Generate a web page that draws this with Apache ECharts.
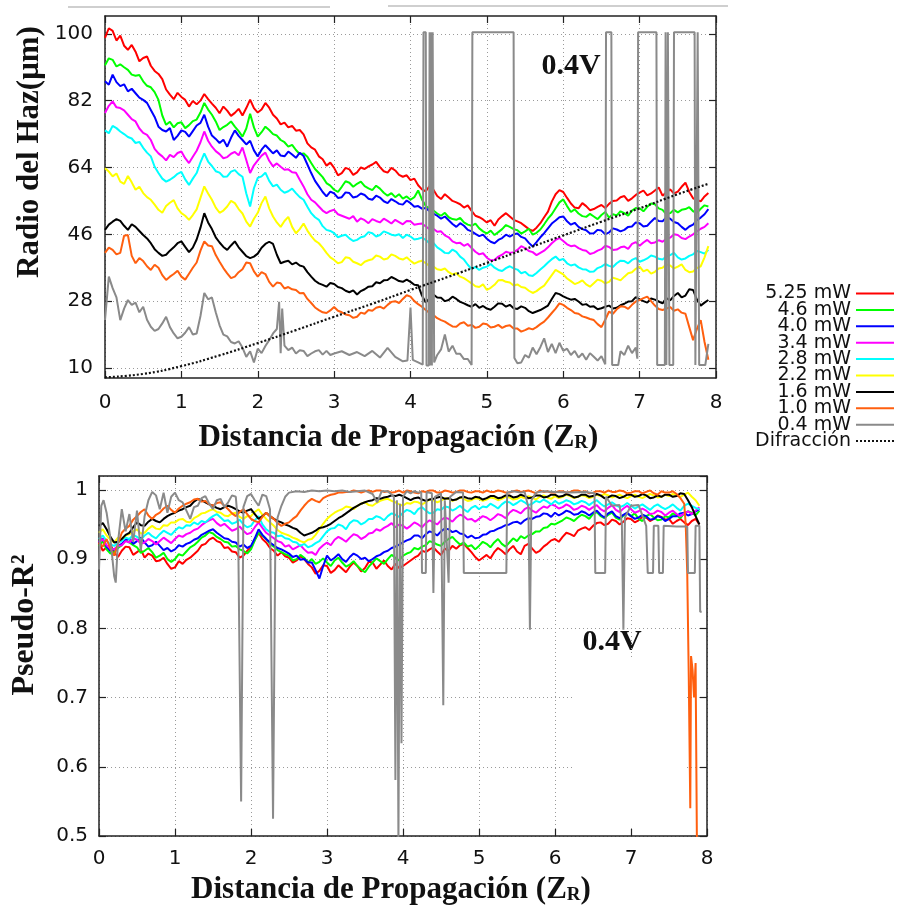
<!DOCTYPE html>
<html>
<head>
<meta charset="utf-8">
<script src="https://cdn.jsdelivr.net/npm/echarts@6/dist/echarts.min.js"></script>
<style>
  html, body { margin: 0; padding: 0; background: #fff; }
  #main { width: 897px; height: 912px; }
</style>
</head>
<body>
<div id="main"></div>
<script>
// distancia de propagacion (Z_R), muestreada cada 0.05
var dist = [0,0.05,0.1,0.15,0.2,0.25,0.3,0.35,0.4,0.45,0.5,0.55,0.6,0.65,0.7,0.75,0.8,0.85,0.9,0.95,
  1,1.05,1.1,1.15,1.2,1.25,1.3,1.35,1.4,1.45,1.5,1.55,1.6,1.65,1.7,1.75,1.8,1.85,1.9,1.95,
  2,2.05,2.1,2.15,2.2,2.25,2.3,2.35,2.4,2.45,2.5,2.55,2.6,2.65,2.7,2.75,2.8,2.85,2.9,2.95,
  3,3.05,3.1,3.15,3.2,3.25,3.3,3.35,3.4,3.45,3.5,3.55,3.6,3.65,3.7,3.75,3.8,3.85,3.9,3.95,
  4,4.05,4.1,4.15,4.2,4.25,4.3,4.35,4.4,4.45,4.5,4.55,4.6,4.65,4.7,4.75,4.8,4.85,4.9,4.95,
  5,5.05,5.1,5.15,5.2,5.25,5.3,5.35,5.4,5.45,5.5,5.55,5.6,5.65,5.7,5.75,5.8,5.85,5.9,5.95,
  6,6.05,6.1,6.15,6.2,6.25,6.3,6.35,6.4,6.45,6.5,6.55,6.6,6.65,6.7,6.75,6.8,6.85,6.9,6.95,
  7,7.05,7.1,7.15,7.2,7.25,7.3,7.35,7.4,7.45,7.5,7.55,7.6,7.65,7.7,7.75,7.8,7.85,7.9];

var nombres = ['5.25 mW','4.6 mW','4.0 mW','3.4 mW','2.8 mW','2.2 mW','1.6 mW','1.0 mW','0.4 mW'];
var colores = ['#ff0000','#00ff00','#0000ff','#ff00ff','#00ffff','#ffff00','#000000','#ff5f0f','#8a8a8a'];
var marcasRadio = [10, 28, 46, 64, 82, 100];

// ---- radio del haz (um) ----
var radio525 = [98.9,101.5,100.8,98.2,99.5,96.8,95.7,97.0,95.2,92.6,93.5,93.9,91.4,90.0,89.2,87.8,85.0,83.6,82.4,84.1,
  83.0,82.2,80.4,81.9,81.0,82.0,83.8,82.4,81.2,80.1,78.6,80.4,79.3,77.9,78.7,79.8,78.0,80.0,82.3,80.0,
  78.8,79.6,81.4,80.1,78.2,77.2,75.6,76.1,74.8,75.2,73.9,74.1,72.9,70.5,69.4,68.8,67.0,66.2,64.5,65.3,
  63.9,61.9,62.5,63.9,63.5,62.0,62.7,64.0,63.6,64.3,64.8,65.5,64.1,63.0,62.6,63.9,63.2,62.0,61.5,61.9,
  60.6,61.0,59.2,58.1,57.6,59.0,58.0,56.3,55.5,56.8,55.9,55.0,54.6,54.1,53.2,53.8,52.3,51.0,50.6,50.0,
  49.2,49.8,48.3,50.0,50.9,51.7,50.8,49.9,49.5,49.0,48.2,47.4,46.9,47.8,49.0,50.6,52.1,54.8,56.8,57.9,
  57.4,55.8,54.3,53.2,53.0,54.4,53.6,52.5,52.8,53.4,53.9,53.1,54.2,55.0,55.1,56.0,56.3,55.0,55.7,56.6,
  57.2,57.8,56.5,57.0,57.8,58.6,56.4,57.3,58.1,57.0,57.5,58.8,59.9,57.4,55.7,55.2,54.9,56.2,57.1];
var radio46 = [91.5,93.4,93.0,91.2,91.8,91.0,90.3,89.0,88.7,88.9,87.2,86.0,85.6,84.3,82.2,78.0,75.5,76.3,74.8,75.9,
  76.2,74.6,75.4,76.5,76.9,78.8,81.4,79.6,78.2,76.4,74.1,74.9,75.5,76.4,75.0,73.8,72.3,74.5,78.5,74.8,
  72.3,73.5,75.0,74.1,73.0,72.6,71.4,70.8,69.6,70.1,68.7,67.6,67.8,66.9,65.2,63.6,62.5,61.4,59.8,59.1,
  58.0,57.4,58.8,60.3,59.9,58.8,59.6,60.2,59.0,58.4,57.9,59.1,58.3,57.2,56.4,57.1,56.0,56.8,55.6,56.2,
  55.3,56.0,57.8,55.4,53.6,53.0,52.4,51.6,51.0,51.8,50.6,50.1,49.9,50.4,49.2,48.6,48.3,48.9,47.6,46.8,
  46.2,47.0,45.8,46.6,47.4,48.5,48.0,47.4,47.1,46.2,46.8,47.5,45.9,46.4,47.3,48.7,50.2,51.4,53.0,54.6,
  55.4,53.6,52.0,52.7,51.6,50.9,50.7,51.5,50.8,50.1,51.2,52.0,50.5,51.4,51.1,52.2,51.7,51.0,52.4,53.1,
  53.0,52.2,53.4,54.3,54.1,53.0,52.6,51.4,51.7,52.6,51.9,52.6,52.8,53.3,52.2,51.8,52.9,53.8,53.5];
var radio40 = [87.2,86.3,89.0,87.0,85.9,86.4,84.5,85.2,84.0,82.8,82.2,81.4,79.5,77.6,75.0,74.1,73.7,74.6,71.4,72.5,
  74.0,73.6,72.3,73.8,75.3,76.0,78.2,75.0,72.6,71.7,70.6,71.5,69.6,72.0,74.0,72.5,71.4,70.2,71.2,68.6,
  67.0,68.8,70.0,68.9,67.8,68.6,67.2,67.0,68.3,67.5,66.6,68.0,67.1,64.8,62.5,60.4,58.9,57.4,56.2,57.5,
  57.0,55.8,56.0,57.3,57.1,55.9,56.2,57.0,56.6,55.6,55.3,56.4,55.9,54.9,54.4,55.5,54.9,54.2,54.0,55.1,
  54.4,53.4,53.6,52.9,53.1,52.2,51.6,51.0,50.2,50.8,49.8,48.8,48.0,49.0,48.3,47.2,46.8,46.1,45.5,45.9,
  44.8,44.0,43.6,44.5,45.0,45.9,45.4,46.0,46.2,45.3,44.9,43.7,42.7,43.9,45.2,46.3,47.6,48.9,49.7,50.6,
  50.8,49.5,48.6,49.1,48.0,47.4,47.1,46.2,46.3,47.2,47.0,46.0,46.5,47.6,47.3,46.8,47.2,48.0,48.1,49.2,
  49.0,48.1,48.3,49.4,50.4,49.6,49.5,50.6,50.2,49.3,49.0,48.0,47.2,48.1,48.6,49.8,50.5,51.4,52.8];
var radio34 = [78.7,80.6,81.8,80.2,80.0,79.4,78.2,77.0,76.4,74.5,73.3,72.8,71.4,69.0,67.8,67.0,65.9,67.4,66.8,67.9,
  68.3,66.5,65.2,66.9,68.5,70.8,73.7,71.2,69.6,68.4,67.6,66.5,66.8,67.7,68.2,67.3,69.4,66.0,62.5,64.6,
  65.9,67.2,68.0,65.8,64.3,65.1,64.2,63.4,63.5,62.7,62.6,60.7,58.9,56.8,55.3,54.6,53.5,52.4,51.7,52.3,
  52.6,51.4,51.0,50.6,50.2,50.9,49.4,50.3,49.8,49.0,50.1,49.6,49.2,50.2,49.6,48.9,49.9,49.3,48.7,49.6,
  49.5,48.6,48.8,48.9,48.1,47.4,47.5,46.7,46.8,45.7,45.2,44.1,43.6,43.7,42.9,43.4,42.3,41.3,40.6,40.9,
  39.7,39.0,39.1,40.0,40.5,41.3,41.0,41.2,41.8,42.8,42.3,41.5,41.2,40.4,41.0,41.6,42.5,43.6,44.5,45.0,
  44.2,43.3,42.8,43.0,42.3,41.8,41.6,40.7,41.0,41.6,42.0,42.9,42.6,41.8,41.9,42.5,42.7,42.1,43.4,43.9,
  42.9,43.8,44.5,43.6,43.8,44.4,44.0,44.8,45.1,46.0,45.8,45.0,44.7,45.4,46.0,46.8,47.5,48.0,49.0];
var radio28 = [74.0,73.2,75.2,74.6,73.7,73.0,72.2,71.8,70.6,70.9,69.3,68.0,67.0,64.2,62.5,61.0,60.2,60.7,61.4,62.3,
  62.8,60.8,59.3,61.0,62.5,65.4,67.8,65.6,64.4,63.0,62.6,61.5,61.6,62.9,63.3,62.2,61.5,57.0,53.5,58.4,
  61.2,61.6,62.6,60.4,58.9,59.4,58.0,57.2,57.6,58.3,57.1,56.0,55.3,53.4,51.7,50.6,49.9,48.2,47.2,46.9,
  46.3,45.2,45.6,45.9,44.9,44.2,44.5,45.2,45.5,46.6,46.3,45.4,45.8,46.8,46.4,45.9,45.7,46.0,45.0,45.9,
  45.4,44.6,44.8,45.1,44.5,43.6,43.7,42.5,41.8,41.0,40.9,41.9,41.3,40.0,39.2,37.8,36.6,37.2,36.4,37.0,
  37.3,38.0,37.0,36.4,36.1,36.9,37.4,36.8,36.5,35.5,35.9,35.0,34.8,35.6,36.5,37.4,38.4,39.3,40.0,39.0,
  39.4,38.2,37.6,37.9,37.1,36.6,36.5,35.9,36.0,36.9,37.3,38.0,37.5,37.2,38.2,38.9,38.8,38.2,39.1,39.6,
  38.6,39.0,39.5,40.3,40.0,39.4,39.2,40.0,40.4,41.0,39.8,39.2,39.5,40.2,40.6,41.5,41.2,40.8,41.8];
var radio22 = [63.8,62.9,61.6,62.4,60.2,59.6,61.7,60.0,58.0,58.8,57.1,56.0,55.3,54.0,52.6,51.8,53.6,54.5,55.2,53.0,
  51.7,51.0,49.9,51.2,52.7,55.8,58.9,57.0,55.3,53.2,51.8,52.4,53.5,55.0,54.4,52.8,51.6,49.4,48.1,50.2,
  51.8,54.4,56.2,53.0,50.8,49.2,48.0,49.6,50.7,48.0,46.3,47.4,48.9,47.0,45.5,44.3,43.6,42.4,41.0,39.8,
  39.1,38.2,38.5,39.8,39.6,38.6,38.2,37.7,38.6,39.0,39.3,40.3,40.0,39.2,39.5,40.6,40.2,39.5,39.2,39.8,
  38.9,38.1,38.6,38.9,38.2,37.5,37.3,36.6,36.4,36.8,35.8,35.2,35.5,34.6,34.2,33.5,32.8,32.0,31.8,32.5,
  31.0,31.6,32.4,33.6,33.7,33.2,33.0,32.2,32.5,31.8,31.6,30.8,30.2,30.7,31.5,32.2,33.6,35.0,36.4,35.8,
  35.2,34.1,33.4,32.6,33.0,33.6,32.5,31.9,32.8,33.8,33.5,32.8,33.2,34.3,34.0,33.6,34.6,35.5,35.8,36.7,
  37.3,36.0,36.5,35.4,35.9,36.8,37.0,37.9,37.6,36.8,37.3,37.9,36.4,35.8,36.0,36.9,37.4,39.8,42.8];
var radio16 = [47.2,48.6,49.4,50.1,49.6,48.3,47.2,48.7,48.0,46.9,45.8,44.9,43.6,42.0,41.0,40.2,40.5,41.6,42.5,43.6,
  44.1,42.6,41.2,42.4,44.6,47.8,51.7,49.2,47.4,45.2,43.8,42.6,41.8,43.0,44.1,42.5,41.3,40.1,39.6,40.0,
  40.8,42.4,43.4,44.0,43.4,40.5,38.2,38.6,38.9,37.9,38.4,37.6,37.3,35.8,34.6,33.5,32.8,32.4,31.9,32.9,
  32.6,31.8,31.5,30.8,30.4,30.9,29.8,30.7,31.2,31.9,32.0,33.1,32.8,33.6,33.7,34.5,34.0,33.4,33.2,33.8,
  33.2,32.4,32.3,29.5,27.6,28.8,29.8,29.0,28.9,28.0,28.3,29.2,28.6,27.8,27.4,26.9,26.5,27.2,26.2,26.7,
  26.0,25.7,26.5,27.4,27.3,26.5,27.0,26.1,25.9,26.6,26.2,25.3,24.8,25.2,25.6,26.2,26.8,28.6,30.2,29.9,
  29.3,28.8,28.4,28.6,27.9,27.0,27.2,26.5,26.6,25.8,26.1,26.5,26.8,26.0,26.2,26.9,27.3,27.9,28.0,29.1,
  28.5,28.0,27.6,28.7,28.4,27.9,27.4,28.8,28.2,29.4,30.2,29.0,29.5,31.2,31.0,28.4,26.8,27.6,28.3];
var radio10 = [41.0,42.4,41.8,40.6,41.0,45.6,45.8,40.2,38.2,39.6,38.8,37.4,36.4,37.8,37.0,35.0,33.7,34.6,35.3,36.2,
  34.6,33.8,35.4,37.0,38.4,41.6,44.1,43.0,42.8,40.4,38.6,36.9,35.5,34.2,34.6,35.8,36.6,38.4,38.2,36.0,
  34.6,35.8,35.3,33.2,31.9,33.0,32.8,31.4,31.8,31.2,31.0,30.1,30.2,28.6,27.5,26.3,25.6,25.0,24.8,25.5,
  26.4,25.4,25.0,24.4,24.2,23.5,23.8,24.9,24.6,25.6,25.4,26.2,26.5,26.0,27.0,27.8,28.0,27.5,28.6,29.6,
  29.2,28.0,27.2,26.5,25.6,24.8,24.3,23.4,22.9,22.5,21.8,21.2,21.1,22.0,22.3,21.4,21.6,20.8,21.1,22.0,
  21.8,20.9,21.1,21.6,20.8,21.3,21.5,20.6,20.6,19.8,20.2,20.7,20.4,21.0,21.8,22.5,23.6,24.8,26.0,27.4,
  27.0,26.2,25.6,24.8,24.6,23.9,23.6,23.2,22.9,21.8,21.0,23.0,25.2,24.6,25.8,26.6,26.5,25.9,27.0,27.9,
  28.3,28.8,29.2,28.0,26.8,25.9,25.6,26.0,26.4,25.4,25.8,24.9,24.6,21.0,17.5,20.5,22.9,17.0,12.2];
// 0.4 mW: pares [z, radio] (saltos al borde del ajuste)
var radio04 = [[0,22.9],[0.05,34.6],[0.1,31.5],[0.15,29.0],[0.2,22.9],[0.25,26.0],[0.3,28.3],[0.35,27.0],
  [0.4,27.6],[0.45,25.0],[0.5,26.5],[0.55,23.0],[0.6,21.1],[0.65,20.0],[0.7,20.5],[0.75,22.0],
  [0.8,23.8],[0.85,21.0],[0.9,19.3],[0.95,18.0],[1.0,18.4],[1.05,19.5],[1.1,21.0],[1.15,19.0],
  [1.2,19.3],[1.25,24.0],[1.3,30.2],[1.35,28.5],[1.4,29.0],[1.45,25.0],[1.5,21.5],[1.55,19.0],
  [1.6,18.5],[1.65,17.0],[1.7,16.6],[1.75,17.2],[1.8,15.5],[1.85,13.0],[1.9,14.5],[1.95,11.5],
  [2.0,15.2],[2.05,14.0],[2.1,15.9],[2.15,17.5],[2.2,19.3],[2.25,20.5],[2.28,27.8],[2.3,14.0],
  [2.32,26.0],[2.35,16.0],[2.4,14.8],[2.45,15.5],[2.5,13.9],[2.55,14.8],[2.6,14.6],[2.65,13.2],
  [2.7,13.9],[2.75,14.5],[2.8,14.8],[2.85,13.6],[2.9,14.6],[2.95,13.5],[3.0,13.9],[3.1,14.5],
  [3.2,13.5],[3.3,14.3],[3.4,13.2],[3.5,14.6],[3.6,12.8],[3.7,15.4],[3.8,13.0],[3.9,11.8],
  [3.96,12.0],[4.0,26.3],[4.03,12.2],[4.1,11.5],[4.16,10.9],[4.17,100.4],[4.2,100.4],[4.21,10.7],
  [4.24,10.7],[4.25,100.4],[4.26,10.7],[4.27,100.4],[4.28,10.7],[4.29,100.4],[4.3,100.4],[4.31,11.5],
  [4.35,13.5],[4.4,15.0],[4.45,19.0],[4.5,14.4],[4.55,16.0],[4.6,13.8],[4.65,13.8],[4.7,12.4],
  [4.75,12.4],[4.8,10.8],[4.81,100.4],[5.35,100.4],[5.36,12.7],[5.4,11.3],[5.45,11.5],[5.5,13.5],
  [5.55,12.8],[5.6,15.5],[5.65,13.7],[5.7,15.6],[5.75,18.0],[5.8,14.3],[5.85,16.5],[5.9,14.0],
  [5.95,16.8],[6.0,14.6],[6.05,15.2],[6.1,13.5],[6.15,14.6],[6.2,12.8],[6.25,13.9],[6.3,12.2],
  [6.35,14.0],[6.4,13.0],[6.45,12.0],[6.5,13.2],[6.55,11.0],[6.56,100.4],[6.63,100.4],[6.64,10.8],
  [6.72,10.8],[6.75,14.5],[6.8,13.5],[6.85,16.0],[6.9,14.0],[6.95,15.5],[6.97,12.5],[6.98,100.4],
  [7.22,100.4],[7.23,10.8],[7.33,10.8],[7.34,100.4],[7.35,10.8],[7.37,100.4],[7.39,10.8],[7.44,10.8],
  [7.45,100.4],[7.72,100.4],[7.73,10.8],[7.76,100.4],[7.77,100.4],[7.78,10.8],[7.86,10.8],[7.9,16.5]];
var difrZ = [0,0.5,1,1.5,2,2.5,3,3.5,4,4.5,5,5.5,6,6.5,7,7.5,7.9];
var difrRadio = [7.5,8.4,10.5,13.4,16.7,20.2,23.8,27.3,31.0,34.6,38.3,42.0,45.7,49.4,53.0,56.8,59.6];

// ---- pseudo-R2 ----
var r2_525 = [0.924,0.912,0.917,0.921,0.910,0.903,0.912,0.918,0.917,0.906,0.910,0.914,0.902,0.908,0.905,0.897,0.898,0.902,0.893,0.886,
  0.888,0.897,0.893,0.899,0.902,0.907,0.912,0.920,0.922,0.928,0.931,0.926,0.924,0.916,0.917,0.911,0.910,0.902,0.905,0.912,
  0.917,0.928,0.938,0.929,0.924,0.916,0.912,0.905,0.910,0.904,0.902,0.895,0.898,0.904,0.900,0.893,0.888,0.879,0.883,0.891,
  0.890,0.880,0.884,0.891,0.886,0.881,0.889,0.895,0.890,0.882,0.887,0.896,0.895,0.886,0.892,0.898,0.890,0.885,0.893,0.887,
  0.890,0.894,0.898,0.902,0.905,0.912,0.910,0.914,0.917,0.911,0.906,0.915,0.912,0.919,0.915,0.920,0.922,0.916,0.910,0.903,
  0.898,0.902,0.906,0.901,0.910,0.916,0.912,0.907,0.914,0.919,0.911,0.907,0.919,0.922,0.915,0.909,0.912,0.918,0.922,0.927,
  0.929,0.925,0.932,0.938,0.936,0.933,0.941,0.944,0.946,0.942,0.948,0.952,0.953,0.949,0.951,0.957,0.955,0.950,0.954,0.959,
  0.958,0.953,0.956,0.961,0.960,0.955,0.958,0.963,0.961,0.957,0.958,0.951,0.955,0.958,0.953,0.949,0.955,0.958,0.950];
var r2_46 = [0.919,0.926,0.914,0.908,0.910,0.916,0.920,0.927,0.924,0.920,0.917,0.909,0.912,0.916,0.910,0.902,0.905,0.909,0.900,0.896,
  0.900,0.907,0.905,0.911,0.917,0.920,0.925,0.931,0.934,0.939,0.937,0.932,0.929,0.925,0.924,0.918,0.919,0.914,0.912,0.908,
  0.914,0.927,0.938,0.934,0.929,0.922,0.918,0.913,0.910,0.907,0.905,0.898,0.900,0.906,0.902,0.895,0.900,0.893,0.896,0.901,
  0.895,0.890,0.898,0.902,0.895,0.889,0.892,0.897,0.890,0.885,0.881,0.889,0.895,0.901,0.897,0.893,0.900,0.906,0.902,0.898,
  0.905,0.908,0.910,0.916,0.914,0.918,0.920,0.926,0.924,0.921,0.919,0.925,0.929,0.932,0.926,0.921,0.924,0.918,0.920,0.914,
  0.919,0.925,0.922,0.917,0.924,0.929,0.922,0.918,0.924,0.930,0.926,0.933,0.930,0.934,0.936,0.940,0.940,0.945,0.946,0.951,
  0.950,0.953,0.956,0.960,0.958,0.955,0.960,0.964,0.962,0.958,0.965,0.968,0.962,0.959,0.964,0.967,0.960,0.957,0.963,0.966,
  0.962,0.966,0.958,0.955,0.962,0.965,0.960,0.956,0.957,0.962,0.960,0.966,0.963,0.959,0.966,0.969,0.967,0.963,0.970];
var r2_40 = [0.924,0.930,0.918,0.912,0.914,0.919,0.922,0.928,0.929,0.922,0.926,0.931,0.924,0.918,0.920,0.925,0.919,0.913,0.916,0.911,
  0.914,0.920,0.918,0.922,0.924,0.928,0.930,0.935,0.938,0.941,0.943,0.938,0.934,0.930,0.929,0.925,0.924,0.918,0.921,0.916,
  0.919,0.930,0.943,0.935,0.929,0.924,0.920,0.916,0.914,0.911,0.908,0.903,0.905,0.899,0.900,0.895,0.895,0.884,0.872,0.890,
  0.905,0.898,0.902,0.907,0.900,0.896,0.903,0.908,0.905,0.900,0.902,0.897,0.900,0.904,0.906,0.910,0.912,0.916,0.918,0.921,
  0.924,0.927,0.929,0.934,0.934,0.930,0.936,0.940,0.938,0.934,0.940,0.944,0.943,0.939,0.941,0.937,0.936,0.931,0.934,0.930,
  0.931,0.935,0.936,0.940,0.941,0.944,0.946,0.949,0.950,0.953,0.954,0.951,0.956,0.959,0.958,0.961,0.962,0.966,0.965,0.961,
  0.967,0.963,0.966,0.970,0.968,0.964,0.965,0.969,0.967,0.963,0.967,0.970,0.964,0.960,0.966,0.969,0.962,0.959,0.964,0.967,
  0.962,0.958,0.960,0.964,0.962,0.957,0.958,0.962,0.960,0.955,0.958,0.962,0.962,0.966,0.967,0.963,0.965,0.969,0.972];
var r2_34 = [0.924,0.929,0.920,0.915,0.914,0.919,0.920,0.926,0.924,0.930,0.928,0.922,0.924,0.929,0.926,0.921,0.926,0.931,0.927,0.923,
  0.929,0.934,0.932,0.936,0.938,0.942,0.944,0.949,0.953,0.956,0.958,0.952,0.948,0.951,0.946,0.941,0.943,0.947,0.941,0.936,
  0.938,0.946,0.953,0.945,0.938,0.934,0.930,0.926,0.924,0.918,0.920,0.914,0.917,0.920,0.914,0.909,0.910,0.906,0.915,0.920,
  0.924,0.920,0.928,0.932,0.929,0.925,0.931,0.936,0.934,0.929,0.932,0.937,0.938,0.943,0.941,0.945,0.948,0.952,0.946,0.950,
  0.948,0.944,0.948,0.953,0.950,0.946,0.952,0.956,0.953,0.950,0.956,0.960,0.958,0.954,0.960,0.964,0.962,0.957,0.958,0.954,
  0.958,0.962,0.960,0.956,0.960,0.965,0.963,0.959,0.967,0.971,0.969,0.966,0.972,0.975,0.970,0.967,0.972,0.976,0.974,0.979,
  0.977,0.973,0.975,0.979,0.976,0.971,0.973,0.977,0.975,0.971,0.975,0.978,0.972,0.969,0.974,0.978,0.971,0.968,0.973,0.977,
  0.972,0.967,0.969,0.973,0.970,0.965,0.966,0.970,0.968,0.963,0.967,0.970,0.965,0.962,0.966,0.969,0.965,0.970,0.975];
var r2_28 = [0.929,0.934,0.926,0.921,0.919,0.924,0.926,0.931,0.929,0.935,0.932,0.928,0.934,0.938,0.933,0.930,0.936,0.941,0.938,0.935,
  0.941,0.946,0.944,0.949,0.948,0.953,0.950,0.955,0.953,0.958,0.962,0.965,0.960,0.955,0.956,0.951,0.953,0.957,0.950,0.946,
  0.948,0.956,0.962,0.950,0.943,0.939,0.938,0.933,0.934,0.930,0.929,0.925,0.924,0.919,0.922,0.917,0.919,0.923,0.926,0.933,
  0.940,0.944,0.945,0.950,0.948,0.943,0.952,0.956,0.955,0.950,0.953,0.958,0.958,0.962,0.960,0.956,0.962,0.966,0.964,0.961,
  0.967,0.971,0.969,0.965,0.972,0.975,0.970,0.966,0.967,0.972,0.971,0.976,0.975,0.970,0.973,0.977,0.972,0.968,0.974,0.977,
  0.972,0.976,0.975,0.980,0.977,0.973,0.979,0.983,0.982,0.978,0.981,0.985,0.982,0.978,0.980,0.984,0.982,0.986,0.983,0.979,
  0.984,0.980,0.982,0.985,0.983,0.979,0.981,0.984,0.982,0.978,0.982,0.985,0.980,0.976,0.979,0.982,0.978,0.975,0.977,0.981,
  0.977,0.973,0.976,0.979,0.975,0.971,0.976,0.979,0.975,0.972,0.975,0.979,0.974,0.970,0.977,0.980,0.977,0.974,0.972];
var r2_22 = [0.938,0.943,0.934,0.928,0.924,0.931,0.929,0.934,0.936,0.940,0.943,0.937,0.938,0.944,0.948,0.944,0.943,0.949,0.948,0.953,
  0.953,0.957,0.958,0.954,0.953,0.959,0.962,0.966,0.967,0.970,0.972,0.968,0.967,0.963,0.962,0.966,0.967,0.961,0.958,0.962,
  0.962,0.968,0.972,0.964,0.958,0.953,0.948,0.942,0.938,0.936,0.934,0.931,0.929,0.926,0.924,0.928,0.929,0.935,0.943,0.951,
  0.958,0.963,0.967,0.970,0.972,0.976,0.975,0.972,0.977,0.980,0.982,0.978,0.977,0.981,0.984,0.986,0.987,0.984,0.982,0.979,
  0.977,0.981,0.980,0.983,0.982,0.979,0.982,0.986,0.985,0.982,0.984,0.988,0.987,0.984,0.986,0.989,0.987,0.984,0.985,0.988,
  0.987,0.984,0.986,0.989,0.988,0.985,0.987,0.990,0.989,0.986,0.987,0.990,0.988,0.991,0.989,0.986,0.990,0.992,0.989,0.987,
  0.991,0.988,0.990,0.993,0.991,0.988,0.990,0.992,0.991,0.988,0.990,0.993,0.991,0.994,0.992,0.989,0.991,0.993,0.990,0.988,
  0.991,0.993,0.990,0.988,0.991,0.994,0.992,0.989,0.990,0.993,0.991,0.994,0.992,0.990,0.993,0.996,0.990,0.985,0.977];
var r2_16 = [0.948,0.952,0.943,0.932,0.924,0.925,0.929,0.935,0.938,0.946,0.953,0.949,0.948,0.954,0.958,0.955,0.953,0.958,0.962,0.965,
  0.967,0.970,0.972,0.975,0.977,0.983,0.987,0.985,0.982,0.979,0.977,0.974,0.972,0.975,0.977,0.975,0.972,0.969,0.967,0.970,
  0.972,0.965,0.958,0.962,0.967,0.962,0.958,0.955,0.953,0.950,0.948,0.945,0.943,0.938,0.934,0.936,0.938,0.941,0.945,0.946,
  0.948,0.951,0.955,0.959,0.962,0.966,0.970,0.974,0.977,0.980,0.982,0.984,0.985,0.988,0.987,0.989,0.990,0.992,0.991,0.993,
  0.991,0.988,0.985,0.988,0.989,0.986,0.984,0.986,0.987,0.989,0.990,0.987,0.988,0.985,0.986,0.989,0.990,0.988,0.987,0.990,
  0.989,0.986,0.988,0.991,0.991,0.988,0.989,0.992,0.992,0.989,0.990,0.993,0.991,0.988,0.989,0.992,0.992,0.989,0.990,0.993,
  0.993,0.990,0.991,0.994,0.992,0.989,0.990,0.993,0.993,0.990,0.991,0.994,0.992,0.988,0.989,0.992,0.991,0.988,0.990,0.993,
  0.993,0.990,0.991,0.994,0.992,0.988,0.989,0.992,0.990,0.993,0.993,0.990,0.991,0.995,0.994,0.985,0.975,0.962,0.950];
var r2_10 = [0.924,0.918,0.929,0.915,0.905,0.922,0.938,0.944,0.948,0.957,0.962,0.968,0.972,0.963,0.958,0.964,0.967,0.973,0.977,0.971,
  0.967,0.973,0.977,0.980,0.982,0.986,0.987,0.983,0.984,0.979,0.977,0.981,0.982,0.977,0.972,0.966,0.962,0.968,0.972,0.965,
  0.958,0.955,0.953,0.961,0.967,0.962,0.958,0.952,0.948,0.951,0.953,0.958,0.962,0.970,0.977,0.983,0.987,0.984,0.982,0.988,
  0.991,0.993,0.994,0.996,0.996,0.997,0.997,0.999,0.998,0.996,0.998,0.999,0.997,0.999,0.999,0.997,0.998,0.996,0.997,0.999,
  0.996,0.999,0.998,0.996,0.995,0.998,0.997,0.999,0.999,0.996,0.996,0.999,0.998,0.996,0.997,0.999,0.999,0.997,0.996,0.998,
  0.998,0.996,0.999,0.997,0.997,0.999,0.998,0.996,0.996,0.998,0.999,0.997,0.998,0.999,0.997,0.995,0.999,0.997,0.998,0.996,
  0.996,0.998,0.998,0.996,0.997,0.999,0.999,0.997,0.998,0.995,0.996,0.998,0.998,0.996,0.999,0.997,0.997,0.999,0.998,0.995,
  0.996,0.998,0.998,0.995,0.997,0.999,0.995,0.993,0.998,0.996,0.996,0.998,0.994,0.988,0.980];
var r2_10cola = [[7.72,0.95],[7.74,0.88],[7.76,0.73],[7.78,0.54],[7.79,0.76],[7.81,0.74],
  [7.83,0.70],[7.85,0.75],[7.87,0.45]];
var r2_04 = [[0,0.885],[0.03,0.977],[0.06,0.985],[0.1,0.967],[0.15,0.930],[0.2,0.875],[0.22,0.866],
  [0.25,0.925],[0.3,0.972],[0.35,0.940],[0.4,0.965],[0.45,0.925],[0.5,0.970],[0.55,0.912],[0.6,0.962],
  [0.65,0.985],[0.7,0.997],[0.75,0.992],[0.8,0.972],[0.85,0.996],[0.9,0.967],[0.95,0.990],[1.0,0.996],
  [1.05,0.985],[1.1,0.982],[1.15,0.970],[1.2,0.958],[1.25,0.975],[1.3,0.977],[1.35,0.988],[1.4,0.991],
  [1.45,0.980],[1.5,0.972],[1.55,0.985],[1.6,0.987],[1.65,0.975],[1.7,0.982],[1.75,0.992],[1.8,0.990],
  [1.83,0.950],[1.87,0.550],[1.9,0.975],[1.95,0.991],[2.0,0.994],[2.05,0.985],[2.1,0.977],[2.15,0.993],
  [2.2,0.991],[2.25,0.972],[2.29,0.525],[2.32,0.924],[2.35,0.960],[2.4,0.977],[2.45,0.990],[2.5,0.996],
  [2.6,0.998],[2.7,0.997],[2.8,0.999],[2.9,0.998],[3.0,0.999],[3.1,0.998],[3.2,0.999],[3.3,0.997],
  [3.4,0.998],[3.5,0.999],[3.6,0.994],[3.66,0.982],[3.72,0.998],[3.8,0.998],[3.88,0.990],[3.9,0.581],
  [3.92,0.985],[3.94,0.49],[3.96,0.98],[3.98,0.634],[4.0,0.99],[4.05,0.998],[4.1,0.995],[4.15,0.998],
  [4.2,0.996],[4.24,0.997],[4.25,0.880],[4.3,0.880],[4.31,0.997],[4.38,0.995],[4.4,0.851],[4.42,0.990],
  [4.5,0.995],[4.52,0.793],[4.53,0.689],[4.55,0.985],[4.6,0.866],[4.62,0.990],[4.7,0.997],[4.79,0.996],
  [4.8,0.880],[5.36,0.880],[5.37,0.996],[5.45,0.998],[5.55,0.996],[5.6,0.997],[5.65,0.975],[5.67,0.798],
  [5.69,0.985],[5.75,0.996],[5.85,0.998],[6.0,0.997],[6.2,0.996],[6.4,0.997],[6.52,0.995],[6.53,0.880],
  [6.66,0.880],[6.67,0.990],[6.75,0.977],[6.85,0.978],[6.88,0.950],[6.9,0.798],[6.92,0.960],[7.0,0.977],
  [7.1,0.978],[7.2,0.948],[7.22,0.880],[7.29,0.880],[7.3,0.948],[7.36,0.948],[7.37,0.880],[7.42,0.880],
  [7.43,0.948],[7.6,0.947],[7.74,0.947],[7.75,0.880],[7.84,0.880],[7.85,0.948],[7.9,0.948],[7.91,0.824],
  [7.93,0.824]];

(function() {
  var myChart = echarts.init(document.getElementById('main'));

  function pares(xs, ys) {
    return ys.map(function(v, i) { return [xs[i], v]; });
  }

  var serif = '"Liberation Serif", "Times New Roman", serif';
  var tituloX = 'Distancia de Propagación {p|(Z}{s|R}{p|)}';
  var estiloTitulo = {
    fontFamily: serif, fontWeight: 'bold', fontSize: 31, color: '#111',
    padding: [0, 24, 0, 0],
    rich: {
      p: { fontFamily: serif, fontWeight: 'bold', fontSize: 31, color: '#111' },
      s: { fontFamily: serif, fontWeight: 'bold', fontSize: 19, color: '#111', verticalAlign: 'bottom', padding: [12, 0, 0, 0] }
    }
  };
  var lineaEje = { show: true, onZero: false, lineStyle: { color: '#222', width: 1.5 } };
  var rejilla = { show: true, lineStyle: { color: '#9a9a9a', width: 1, type: [1, 3] } };
  var etiqueta = { fontFamily: 'DejaVu Sans', fontSize: 20, color: '#111' };

  // eje x (abajo con texto, arriba solo marcas)
  function ejeX(grid, pos, gap) {
    var abajo = pos === 'bottom';
    return {
      type: 'value', gridIndex: grid, position: pos, min: 0, max: 8, interval: 1,
      axisLine: lineaEje,
      axisTick: { show: true, inside: true, length: 7, lineStyle: { color: '#222', width: 1.2 } },
      axisLabel: Object.assign({ show: abajo, margin: grid === 0 ? 15 : 13 }, etiqueta),
      splitLine: abajo ? rejilla : { show: false },
      name: abajo ? tituloX : '',
      nameLocation: 'middle', nameGap: gap || 0,
      nameTextStyle: estiloTitulo
    };
  }

  var option = {
    animation: false,
    backgroundColor: '#fff',
    legend: {
      data: nombres.concat(['Difracción']),
      orient: 'vertical', right: 2, top: 284, align: 'right', padding: 0,
      itemWidth: 38, itemHeight: 12, itemGap: -2.6,
      selectedMode: false,
      itemStyle: { opacity: 0 },
      textStyle: { fontFamily: 'DejaVu Sans', fontSize: 19, color: '#111' }
    },
    grid: [
      { left: 105, top: 16, width: 611, height: 362, containLabel: false, outerBoundsMode: 'none' },
      { left: 99, top: 476, width: 608, height: 360, containLabel: false, outerBoundsMode: 'none' }
    ],
    xAxis: [ejeX(0, 'bottom', 44), ejeX(0, 'top'), ejeX(1, 'bottom', 38), ejeX(1, 'top')],
    yAxis: [
      {
        type: 'value', gridIndex: 0, position: 'left', min: 7.3, max: 104.8,
        axisLine: lineaEje,
        axisTick: { show: true, inside: true, length: 7, customValues: marcasRadio, lineStyle: { color: '#222', width: 1.2 } },
        axisLabel: Object.assign({ margin: 12, customValues: marcasRadio }, etiqueta),
        splitLine: rejilla
      },
      {
        type: 'value', gridIndex: 0, position: 'right', min: 7.3, max: 104.8,
        axisLine: lineaEje,
        axisTick: { show: true, inside: true, length: 7, customValues: marcasRadio, lineStyle: { color: '#222', width: 1.2 } },
        axisLabel: { show: false },
        splitLine: { show: false }
      },
      {
        type: 'value', gridIndex: 1, position: 'left', min: 0.5, max: 1.02, interval: 0.1,
        axisLine: lineaEje,
        axisTick: { show: true, inside: true, length: 7, lineStyle: { color: '#222', width: 1.2 } },
        axisLabel: Object.assign({ margin: 11, showMaxLabel: false }, etiqueta),
        splitLine: rejilla
      },
      {
        type: 'value', gridIndex: 1, position: 'right', min: 0.5, max: 1.02, interval: 0.1,
        axisLine: lineaEje,
        axisTick: { show: true, inside: true, length: 7, lineStyle: { color: '#222', width: 1.2 } },
        axisLabel: { show: false },
        splitLine: { show: false }
      }
    ],
    graphic: [
      { type: 'line', shape: { x1: 68, y1: 7, x2: 330, y2: 7 }, style: { stroke: '#cfcfcf', lineWidth: 2 } },
      { type: 'line', shape: { x1: 388, y1: 6, x2: 728, y2: 6 }, style: { stroke: '#cfcfcf', lineWidth: 2 } },
      { type: 'rect', z: 1, shape: { x: 572, y: 660, width: 114, height: 168 }, style: { fill: '#fff' } },
      { type: 'text', x: 30, y: 152, rotation: Math.PI / 2,
        style: { text: 'Radio del Haz(μm)', font: 'bold 31px ' + serif, fill: '#111', align: 'center', verticalAlign: 'middle' } },
      { type: 'text', x: 25, y: 625, rotation: Math.PI / 2,
        style: { text: 'Pseudo-R²', font: 'bold 32px ' + serif, fill: '#111', align: 'center', verticalAlign: 'middle' } },
      { type: 'text', x: 571, y: 66,
        style: { text: '0.4V', font: 'bold 30px ' + serif, fill: '#111', align: 'center', verticalAlign: 'middle' } },
      { type: 'text', x: 612, y: 642,
        style: { text: '0.4V', font: 'bold 30px ' + serif, fill: '#111', align: 'center', verticalAlign: 'middle' } }
    ],
    series: []
  };

  var radios = [radio525, radio46, radio40, radio34, radio28, radio22, radio16, radio10];
  var ajustes = [r2_525, r2_46, r2_40, r2_34, r2_28, r2_22, r2_16];

  function linea(nombre, color, datos, eje) {
    return {
      name: nombre, type: 'line', xAxisIndex: eje, yAxisIndex: eje,
      data: datos, symbol: 'none', showSymbol: false,
      lineStyle: { color: color, width: 2 }, itemStyle: { color: color }
    };
  }

  // panel superior: radio del haz
  radios.forEach(function(r, i) {
    option.series.push(linea(nombres[i], colores[i], pares(dist, r), 0));
  });
  option.series.push(linea(nombres[8], colores[8], radio04, 0));
  var difr = linea('Difracción', '#111', pares(difrZ, difrRadio), 0);
  difr.smooth = true;
  difr.lineStyle = { color: '#111', width: 2.2, type: [2, 2] };
  option.series.push(difr);

  // panel inferior: pseudo-R2
  ajustes.forEach(function(r, i) {
    option.series.push(linea(nombres[i], colores[i], pares(dist, r), 2));
  });
  option.series.push(linea(nombres[7], colores[7], pares(dist, r2_10).concat(r2_10cola), 2));
  option.series.push(linea(nombres[8], colores[8], r2_04, 2));

  myChart.setOption(option);
  window.addEventListener('resize', function() {
    myChart.resize();
  });
})();
</script>
</body>
</html>
